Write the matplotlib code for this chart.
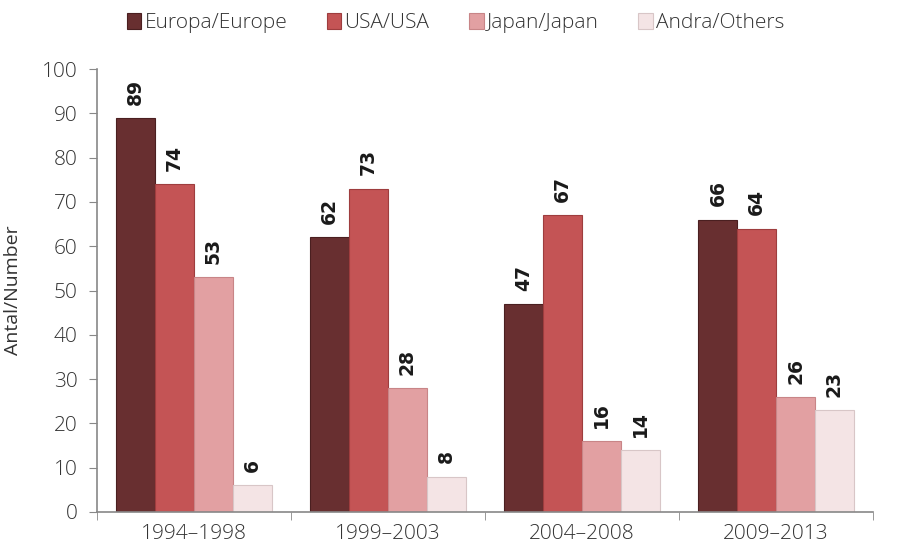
import numpy as np
import matplotlib.pyplot as plt

periods = ['1994–1998', '1999–2003', '2004–2008', '2009–2013']
series = ['Europa/Europe', 'USA/USA', 'Japan/Japan', 'Andra/Others']
europe = [89, 62, 47, 66]
usa = [74, 73, 67, 64]
japan = [53, 28, 16, 26]
others = [6, 8, 14, 23]

colors = ['#682f30', '#c45455', '#e2a0a2', '#f4e4e5']
edges = ['#4a1f20', '#9e3d3e', '#c88587', '#d8c6c7']

plt.rcParams['font.family'] = ['Open Sans', 'DejaVu Sans']
plt.rcParams['font.weight'] = 'light'

fig = plt.figure(figsize=(9.02, 5.55), dpi=100)
ax = fig.add_axes([0.1075, 0.0775, 0.8605, 0.798])

x = np.arange(len(periods))
w = 0.2
for i, (vals, name) in enumerate(zip([europe, usa, japan, others], series)):
    pos = x - 1.5 * w + i * w
    ax.bar(pos, vals, w, color=colors[i], edgecolor=edges[i],
           linewidth=0.8, label=name, zorder=2)
    for p, v in zip(pos, vals):
        ax.text(p, v + 3, str(v), rotation=90, ha='center', va='bottom',
                fontsize=13.5, fontweight='bold', family='DejaVu Sans', color='#1a1a1a')

ax.set_xlim(-0.5, 3.5)
ax.set_ylim(0, 100)
ax.set_yticks(range(0, 101, 10))
ax.set_xticks(x)
ax.set_xticklabels(periods)
ax.set_xticks(np.arange(-0.5, 4, 1), minor=True)
ax.tick_params(axis='x', which='major', length=0, pad=9, labelsize=15, labelcolor='#333333')
ax.tick_params(axis='x', which='minor', length=6, color='#888888', direction='out')
ax.tick_params(axis='y', length=6, color='#888888', pad=8, labelsize=15, labelcolor='#333333')
for s in ['top', 'right']:
    ax.spines[s].set_visible(False)
for s in ['left', 'bottom']:
    ax.spines[s].set_color('#888888')
    ax.spines[s].set_linewidth(1.2)

ax.set_ylabel('Antal/Number', fontsize=14, color='#333333', labelpad=14)

fig.legend(loc='upper center', bbox_to_anchor=(0.505, 1.01), ncol=4, frameon=False,
           fontsize=15, handlelength=0.7, handleheight=0.8, handletextpad=0.15,
           columnspacing=1.9, labelcolor='#333333')

fig.savefig('out.png', dpi=100)
